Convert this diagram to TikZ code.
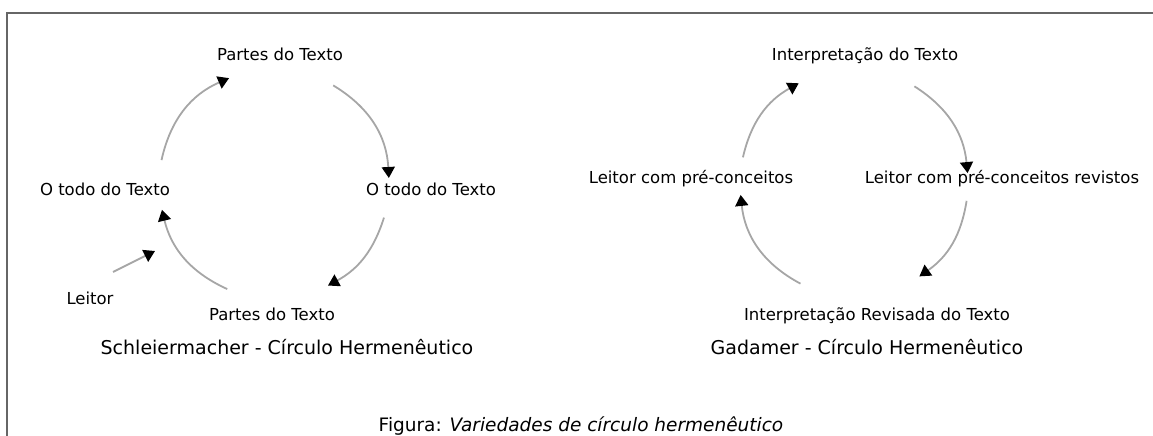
\documentclass[tikz,border=0pt]{standalone}
\usepackage{fontspec}
\setmainfont{DejaVu Sans}
\usetikzlibrary{arrows.meta}
\tikzset{
  lbl/.style={font=\fontsize{16.5}{19}\selectfont, anchor=base, inner sep=0pt},
  ttl/.style={font=\fontsize{19}{22}\selectfont, anchor=base, inner sep=0pt},
  flow/.style={draw=black!35, line width=1.8pt, -{Triangle[color=black,length=11pt,width=13pt]}},
}
\begin{document}
\begin{tikzpicture}[x=1pt,y=1pt]
\useasboundingbox (0,0) rectangle (1153,436);
\draw[black!60, line width=1.3pt] (1153,423) -- (7,423) -- (7,0);
% Schleiermacher
\node[lbl] (lTop) at (280,375) {Partes do Texto};
\node[lbl] (lLeft) at (105,240) {O todo do Texto};
\node[lbl] (lRight) at (431,240) {O todo do Texto};
\node[lbl] (lLeitor) at (90,131) {Leitor};
\node[lbl] (lBot) at (272,115) {Partes do Texto};
\node[ttl] (lTitle) at (287,81) {Schleiermacher - Círculo Hermenêutico};
\coordinate (lCen) at (274,252);
\foreach \n/\a in {a/168, b/113, c/59, d/3, e/-17, f/-62, g/-114, h/-167}
  \coordinate (l\n) at ([shift={(\a:115)}]lCen);
\foreach \s/\e/\b in {a/b/27, c/d/28, e/f/22, g/h/26}
  \draw[flow] (l\s) to[bend left=\b] (l\e);
\coordinate (lIn) at (113,164);
\coordinate (lTo) at (155,185);
\draw[flow] (lIn) -- (lTo);
% Gadamer
\node[lbl] (rTop) at (865,375) {Interpretação do Texto};
\node[lbl] (rLeft) at (691,252) {Leitor com pré-conceitos};
\node[lbl] (rRight) at (1002,252) {Leitor com pré-conceitos revistos};
\node[lbl] (rBot) at (877,115) {Interpretação Revisada do Texto};
\node[ttl] (rTitle) at (867,81) {Gadamer - Círculo Hermenêutico};
\coordinate (rCen) at (854,253);
\foreach \n/\a in {a/167, b/119, c/58, d/5, e/-9, f/-55, g/-118, h/-174}
  \coordinate (r\n) at ([shift={(\a:114)}]rCen);
\foreach \s/\e/\b in {a/b/24, c/d/26, e/f/23, g/h/28}
  \draw[flow] (r\s) to[bend left=\b] (r\e);
\node[ttl, font=\fontsize{18.5}{22}\selectfont] (cap) at (581,5) {Figura: \textit{Variedades de círculo hermenêutico}};
\end{tikzpicture}
\end{document}
